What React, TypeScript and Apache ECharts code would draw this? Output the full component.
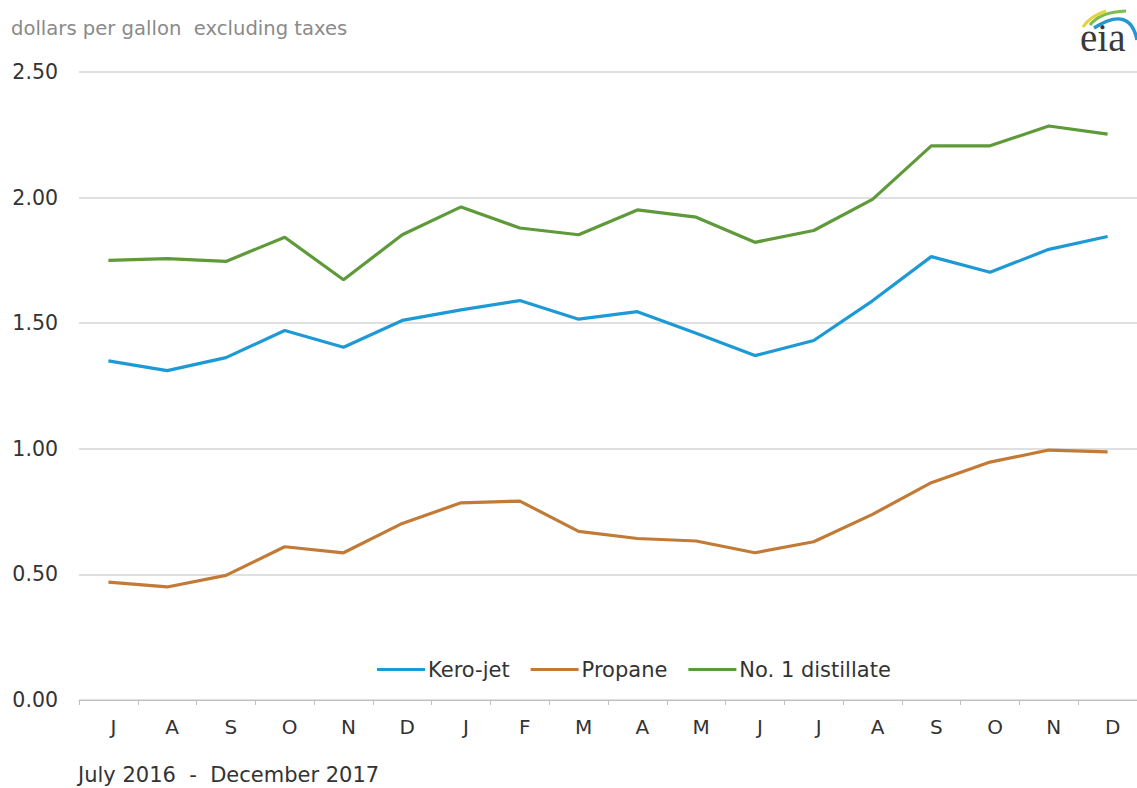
import React, { useEffect, useRef } from "react";
import * as echarts from "echarts";

const months = ["J", "A", "S", "O", "N", "D", "J", "F", "M", "A", "M", "J", "J", "A", "S", "O", "N", "D"];
const keroJet = [1.35, 1.311, 1.363, 1.471, 1.404, 1.511, 1.553, 1.59, 1.516, 1.546, 1.46, 1.371, 1.431, 1.589, 1.765, 1.703, 1.794, 1.845];
const propane = [0.469, 0.45, 0.496, 0.61, 0.586, 0.703, 0.785, 0.792, 0.671, 0.643, 0.633, 0.586, 0.63, 0.739, 0.865, 0.947, 0.995, 0.988];
const distillate = [1.75, 1.757, 1.746, 1.842, 1.673, 1.852, 1.963, 1.879, 1.852, 1.951, 1.922, 1.822, 1.869, 1.993, 2.206, 2.206, 2.285, 2.253];
const yTicks = [0, 0.5, 1.0, 1.5, 2.0, 2.5];

const FONT = "DejaVu Sans";

export default function App() {
  const ref = useRef<HTMLDivElement>(null);
  useEffect(() => {
    if (!ref.current) return;
    const chart = echarts.init(ref.current, null, { renderer: "svg" });
    const mk = (name: string, data: number[], color: string) => ({
      name,
      type: "line",
      data,
      symbol: "none",
      lineStyle: { color, width: 3.2 },
      itemStyle: { color },
    });
    chart.setOption({
      animation: false,
      backgroundColor: "#ffffff",
      textStyle: { fontFamily: FONT },
      grid: { left: 79, right: -4, top: 72, bottom: 88, containLabel: false },
      legend: {
        left: 372,
        top: 654,
        icon: "rect",
        itemWidth: 48,
        itemHeight: 3,
        itemGap: 21,
        textStyle: { fontFamily: FONT, fontSize: 21, color: "#333333", padding: [0, 0, 0, -2] },
        data: ["Kero-jet", "Propane", "No. 1 distillate"],
      },
      xAxis: {
        type: "category",
        data: months,
        boundaryGap: true,
        axisLine: { lineStyle: { color: "#bfbfbf", width: 1 } },
        axisTick: { show: true, length: 5, lineStyle: { color: "#bfbfbf" } },
        axisLabel: { fontFamily: FONT, fontSize: 20, color: "#333333", margin: 17, padding: [0, 0, 0, 10] },
        splitLine: { show: false },
      },
      yAxis: {
        type: "value",
        min: 0,
        max: 2.5,
        interval: 0.5,
        axisLine: { show: false },
        axisTick: { show: false },
        axisLabel: {
          fontFamily: FONT,
          fontSize: 20.5,
          color: "#333333",
          margin: 21,
          formatter: (v: number) => {
            const t = yTicks.find((x) => Math.abs(x - v) < 1e-9);
            return (t ?? v).toFixed(2);
          },
        },
        splitLine: { lineStyle: { color: "#d6d6d6", width: 1.5 } },
      },
      graphic: [
        {
          type: "text",
          left: 11,
          top: 18,
          style: { text: "dollars per gallon  excluding taxes", font: `19.6px "${FONT}"`, fill: "#8a8a8a" },
        },
        {
          type: "text",
          left: 78,
          top: 764,
          style: { text: "July 2016  -  December 2017", font: `21px "${FONT}"`, fill: "#333333" },
        },
        {
          type: "text",
          left: 1080,
          top: 18,
          style: { text: "eia", font: `39px "Liberation Serif"`, fill: "#3a3a3a" },
        },
        {
          type: "bezierCurve",
          shape: { x1: 1083, y1: 27, cpx1: 1090, cpy1: 16, x2: 1106, y2: 11 },
          style: { stroke: "#e6d23c", lineWidth: 3, fill: "none" },
        },
        {
          type: "bezierCurve",
          shape: { x1: 1090, y1: 25, cpx1: 1100, cpy1: 12, x2: 1126, y2: 11 },
          style: { stroke: "#7bbf4a", lineWidth: 3, fill: "none" },
        },
        {
          type: "bezierCurve",
          shape: { x1: 1094, y1: 28, cpx1: 1130, cpy1: 5, x2: 1137, y2: 40 },
          style: { stroke: "#2596d4", lineWidth: 3.5, fill: "none" },
        },
      ],
      series: [
        mk("Kero-jet", keroJet, "#1d9ad6"),
        mk("Propane", propane, "#c27b36"),
        mk("No. 1 distillate", distillate, "#5e9a3a"),
      ],
    });
    return () => chart.dispose();
  }, []);
  return (
    <div
      ref={ref}
      style={{ position: "absolute", left: 0, top: 0, width: 1137, height: 788 }}
    />
  );
}
